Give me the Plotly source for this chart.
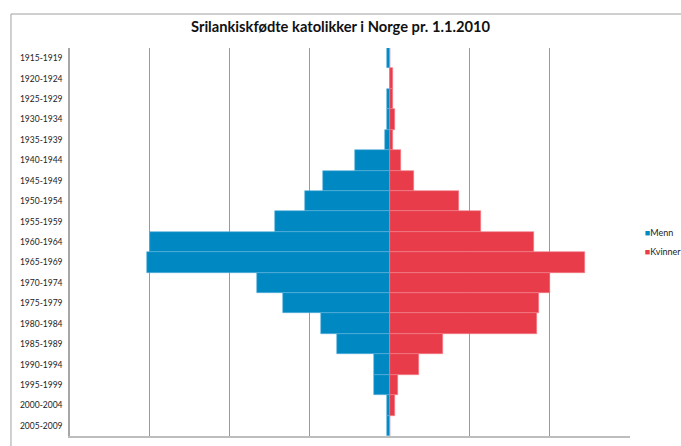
import plotly.graph_objects as go

categories = ["1915-1919", "1920-1924", "1925-1929", "1930-1934", "1935-1939",
              "1940-1944", "1945-1949", "1950-1954", "1955-1959", "1960-1964",
              "1965-1969", "1970-1974", "1975-1979", "1980-1984", "1985-1989",
              "1990-1994", "1995-1999", "2000-2004", "2005-2009"]
menn = [1, 0, 1, 1, 2, 13, 25, 32, 43, 90, 91, 50, 40, 26, 20, 6, 6, 1, 1]
kvinner = [0, 1, 1, 2, 1, 4, 9, 26, 34, 54, 73, 60, 56, 55, 20, 11, 3, 2, 0]

title_text = "Srilankiskfødte katolikker i Norge pr. 1.1.2010"
blue = "#0088c2"
red = "#e83c4a"

fig = go.Figure()
fig.add_trace(go.Bar(
    y=categories, x=[-v for v in menn], orientation="h", name="Menn",
    marker=dict(color=blue, line=dict(color="#5bb0dc", width=0.6)),
    customdata=menn, hovertemplate="%{y}: %{customdata}<extra>Menn</extra>",
    showlegend=False,
))
fig.add_trace(go.Bar(
    y=categories, x=kvinner, orientation="h", name="Kvinner",
    marker=dict(color=red, line=dict(color="#f27c86", width=0.6)),
    hovertemplate="%{y}: %{x}<extra>Kvinner</extra>",
    showlegend=False,
))
# legend entries (symbol drawn as text glyph to match compact legend)
for nm, col in (("Menn", blue), ("Kvinner", red)):
    fig.add_trace(go.Scatter(
        x=[None], y=[None], mode="markers",
        marker=dict(size=1, color="rgba(0,0,0,0)", line=dict(width=0)),
        name=f"<span style='color:{col}'>■</span>{nm}", showlegend=True,
    ))

fig.update_layout(
    width=681, height=446,
    margin=dict(l=70, r=51, t=48, b=10, autoexpand=False),
    paper_bgcolor="white", plot_bgcolor="white",
    barmode="relative", bargap=0,
    font=dict(family="Lato, 'Open Sans', sans-serif", color="#222222"),
    title=dict(text=f"<b>{title_text}</b>", x=0.5, xanchor="center",
               y=0.94, yanchor="middle", font=dict(size=14.7, color="#111111"),
               automargin=False),
    xaxis=dict(range=[-120, 90.05], tickvals=[-90, -60, -30, 30, 60, 90],
               showticklabels=False, showgrid=True, gridcolor="#9a9a9a", gridwidth=1,
               zeroline=False, showline=True, linecolor="#bdbdbd", linewidth=1.5,
               fixedrange=True, automargin=False),
    yaxis=dict(autorange="reversed", showgrid=False, showline=True,
               linecolor="#a6a6a6", linewidth=1.5, ticks="", ticklabelstandoff=4,
               tickfont=dict(size=8.5, color="#222222"), fixedrange=True,
               automargin=False),
    legend=dict(x=0.955, xanchor="left", y=0.5, yanchor="middle",
                bgcolor="rgba(0,0,0,0)", font=dict(size=9, color="#222222"),
                tracegroupgap=0, itemwidth=30),
    shapes=[dict(type="rect", xref="paper", yref="paper",
                 x0=-0.1054, x1=1.3, y0=-0.2, y1=1.0876,
                 line=dict(color="#a0a0a0", width=1), fillcolor="rgba(0,0,0,0)",
                 layer="below")],
)

fig.write_html("out.html", config={"displayModeBar": False},
               post_script="document.body.style.margin='0px';")
